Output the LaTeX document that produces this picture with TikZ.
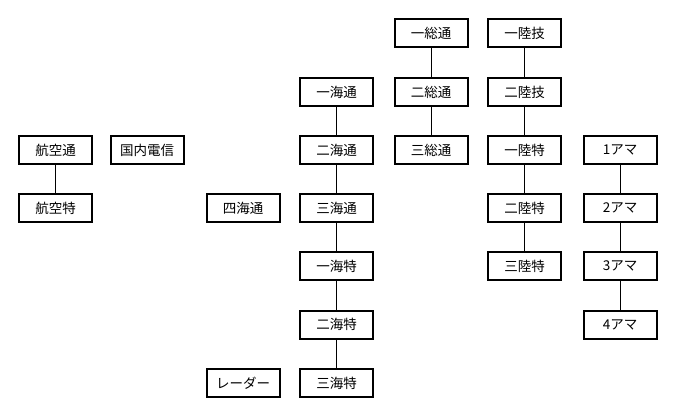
\documentclass[tikz,border=0pt]{standalone}
\usepackage{fontspec}
\newfontfamily\jpfont{Noto Sans CJK JP}
\usepackage{tikz}

\begin{document}
\begin{tikzpicture}[x=1pt,y=-1pt,
		lic/.style={draw,line width=2pt,minimum width=73pt,minimum height=28pt,inner sep=0pt,font=\jpfont\fontsize{13.5}{15}\selectfont},
		link/.style={line width=1pt}]
			\useasboundingbox (0,0) rectangle (675,420);
			% aeronautical
			\node[lic] (aero1) at (55.5,150) {航空通};
			\node[lic] (aero2) at (55.5,208) {航空特};
			\node[lic] (telg) at (147,150) {国内電信};
			\node[lic] (sea4) at (243,208) {四海通};
			\node[lic] (radar) at (243,383) {レーダー};
			% maritime
			\node[lic] (sea1) at (336.5,92) {一海通};
			\node[lic] (sea2) at (336.5,150) {二海通};
			\node[lic] (sea3) at (336.5,208) {三海通};
			\node[lic] (seas1) at (336.5,266) {一海特};
			\node[lic] (seas2) at (336.5,324.5) {二海特};
			\node[lic] (seas3) at (336.5,383) {三海特};
			% general
			\node[lic] (gen1) at (431,33.5) {一総通};
			\node[lic] (gen2) at (431,92) {二総通};
			\node[lic] (gen3) at (431,150) {三総通};
			% land
			\node[lic] (land1) at (524.5,33.5) {一陸技};
			\node[lic] (land2) at (524.5,92) {二陸技};
			\node[lic] (lands1) at (524.5,150) {一陸特};
			\node[lic] (lands2) at (524.5,208) {二陸特};
			\node[lic] (lands3) at (524.5,266) {三陸特};
			% amateur
			\node[lic] (ama1) at (620,150) {1アマ};
			\node[lic] (ama2) at (620,208) {2アマ};
			\node[lic] (ama3) at (620,266) {3アマ};
			\node[lic] (ama4) at (620,324.5) {4アマ};
			% links
			\draw[link] (aero1) -- (aero2);
			\draw[link] (sea1) -- (sea2) -- (sea3) -- (seas1) -- (seas2) -- (seas3);
			\draw[link] (gen1) -- (gen2) -- (gen3);
			\draw[link] (land1) -- (land2) -- (lands1) -- (lands2) -- (lands3);
			\draw[link] (ama1) -- (ama2) -- (ama3) -- (ama4);
		\end{tikzpicture}
\end{document}
